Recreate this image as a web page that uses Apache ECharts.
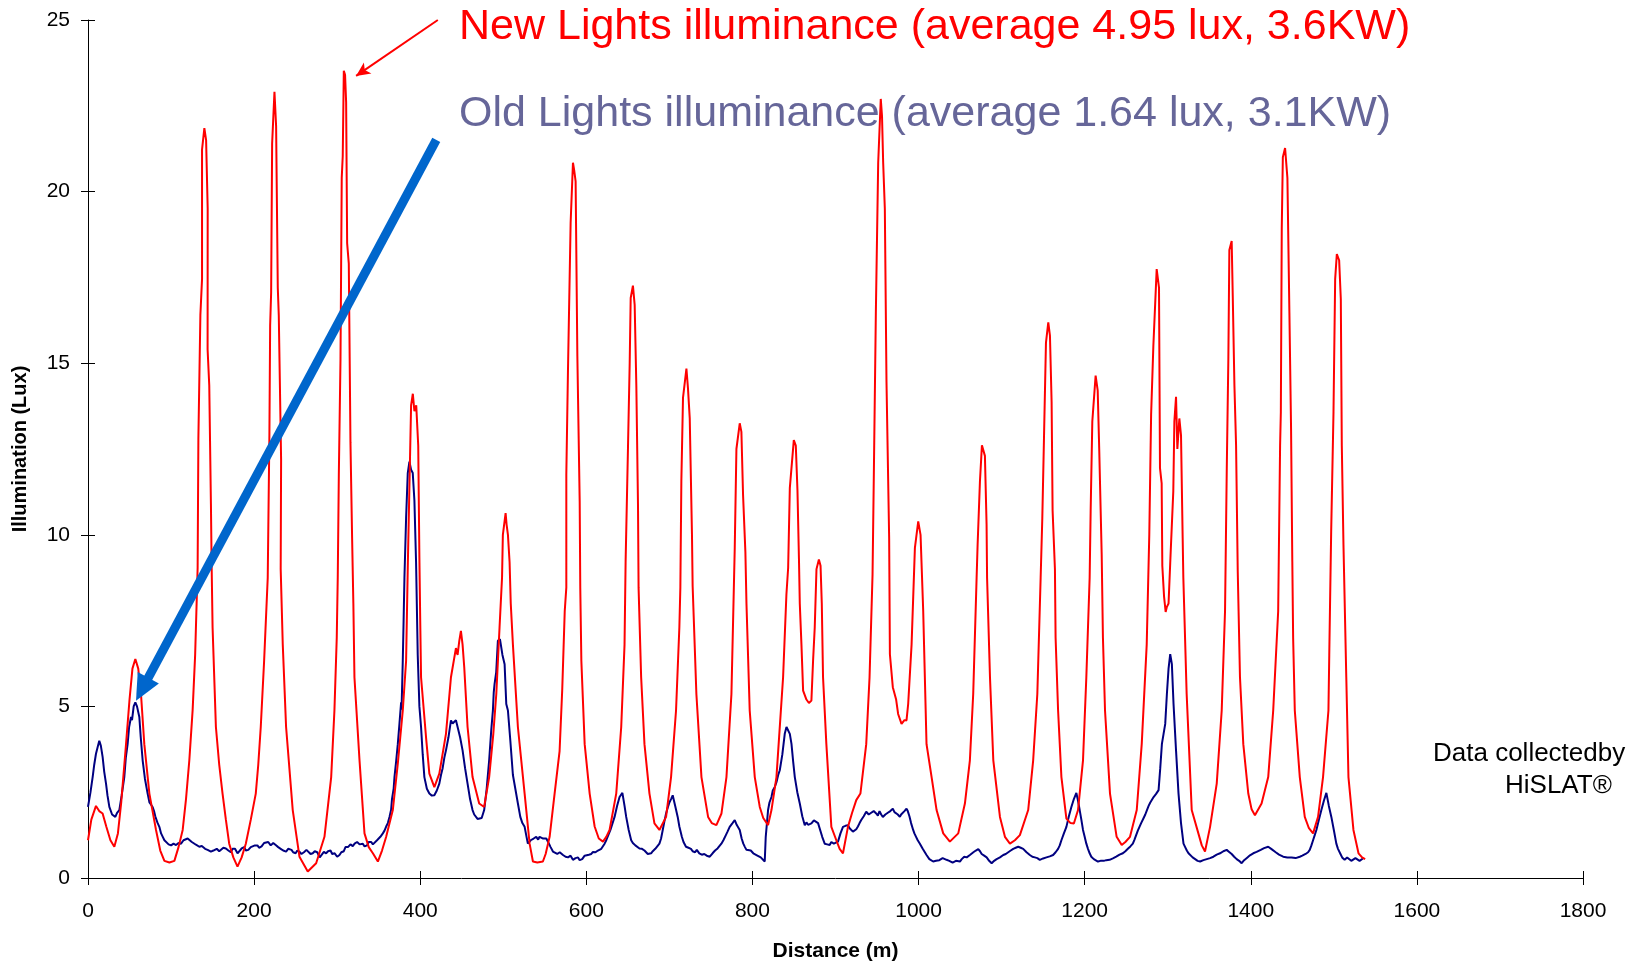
<!DOCTYPE html>
<html>
<head>
<meta charset="utf-8">
<script src="https://cdn.jsdelivr.net/npm/echarts@6/dist/echarts.min.js"></script>
<style>
html,body{margin:0;padding:0;background:#fff;}
#chart{width:1647px;height:967px;}
</style>
</head>
<body>
<div id="chart"></div>
<script>
// ---- Data (distance in m, illuminance in lux) ----
const xTicks = [0, 200, 400, 600, 800, 1000, 1200, 1400, 1600, 1800];
const yTicks = [0, 5, 10, 15, 20, 25];

const newLightsLabel = 'New Lights illuminance (average 4.95 lux, 3.6KW)';
const oldLightsLabel = 'Old Lights illuminance (average 1.64 lux, 3.1KW)';
const creditLines = ['Data collectedby', 'HiSLAT®'];

const newLights = [
[0,1.1],[4,1.7],[9.6,2.1],[13.5,1.95],[17.6,1.88],[22,1.5],[27,1.1],[31.7,0.91],[36,1.3],[40,2.2],[45.8,3.9],[50,5.2],[53.5,6.1],[57,6.38],[60.5,6.1],[63.8,5.36],[67.8,3.9],[73.9,2.46],[81.9,1.4],[87,0.8],[92,0.5],[98,0.45],[104,0.5],[109,0.9],[114,1.4],[118,2.3],[122,3.43],[126,4.9],[129,6.5],[132,9.04],[132.9,12.8],[135.3,16.4],[137.3,17.45],[137.3,21.22],[140.1,21.85],[142.2,21.5],[144.1,19.5],[144,15.4],[146,14.35],[148,10.9],[148.9,9.04],[150,7.3],[154,4.4],[158,3.3],[162,2.46],[166,1.7],[170,1.0],[175,0.6],[180,0.33],[185,0.6],[190,1.0],[196,1.7],[202,2.46],[205,3.3],[208,4.4],[212,6.3],[216.4,8.75],[218.4,12.9],[219.3,16.1],[220.5,17.06],[221.7,21.4],[224.5,22.91],[226.5,21.9],[228.5,17.2],[229.7,16.4],[232.5,12.2],[232,9.0],[234.5,6.8],[238.5,4.4],[246.5,1.98],[254.6,0.62],[264.6,0.19],[274.7,0.43],[284.7,1.2],[292.8,2.94],[296.7,4.88],[299.5,7],[300.7,8.75],[302,11.74],[304,15.1],[305.5,20.4],[306.7,21.03],[308,23.52],[309.5,23.4],[310.8,22.6],[312,18.5],[314,17.9],[316,12.7],[318,9.9],[319.5,8.0],[320.8,5.85],[326.9,3.43],[332.9,1.3],[338,0.9],[343,0.72],[349,0.48],[354,0.8],[359,1.2],[367,1.98],[373,3.33],[379,4.88],[383,6.33],[385,9.04],[389,13.77],[391.1,14.11],[393,13.6],[395.2,13.77],[397.6,12.6],[399,9.33],[400,7.5],[401,5.85],[407,4.1],[411,3.04],[417,2.65],[423,3.04],[431,4.2],[437,5.85],[443,6.7],[445,6.5],[447,6.9],[449,7.2],[451,6.8],[453,6.14],[457,4.4],[463,2.94],[471,2.17],[477,2.07],[483,2.94],[488,4.2],[491.6,5.36],[495.5,7.3],[498.5,8.75],[499.5,10.0],[502.8,10.63],[504,10.3],[505.6,10.0],[507.6,9.2],[509,8.0],[511.6,6.8],[517.6,4.4],[525.7,2.46],[531.7,1.0],[535.7,0.48],[541,0.45],[547.7,0.48],[551,0.7],[555.8,1.2],[561.8,2.46],[567.8,3.7],[571,5.5],[574,7.78],[575.9,8.46],[575.9,11.74],[577.9,14.8],[581.1,19.1],[583.9,20.84],[585.5,20.6],[587.1,20.3],[589.2,15.2],[592,10.97],[592.7,8.46],[594,6.33],[598,3.9],[604,2.46],[610,1.5],[615,1.15],[620,1.06],[624,1.2],[628,1.4],[636,2.46],[642,4.4],[646,6.8],[647.3,9.23],[650.2,12.6],[652.2,15.0],[653.4,16.9],[656.1,17.26],[658.2,16.7],[660.2,14.35],[662.2,10.87],[662.9,8.46],[666,5.85],[670,3.9],[676,2.46],[682,1.59],[688,1.4],[696,1.78],[702,2.94],[708,4.88],[712,7.3],[713.2,8.46],[714.4,11.55],[716.4,14.0],[720.5,14.84],[722.4,14.26],[724.5,13.4],[727.2,10.0],[728,8.5],[732.5,5.36],[738.6,2.94],[746.6,1.78],[751,1.6],[756.6,1.54],[762.7,1.88],[768.7,2.94],[774.7,5.36],[778.7,9.62],[780.7,12.5],[784.7,13.25],[786.7,13.0],[788.7,11.16],[791.5,9.5],[792.8,8.0],[796.7,4.88],[802.8,2.94],[808.8,2.07],[813,1.75],[818.8,1.54],[822.9,1.98],[828.9,2.94],[836.9,5.85],[840.9,8.26],[843,9.04],[845,11.36],[849.8,12.76],[852.2,12.6],[854.2,11.3],[856,9.3],[857,8.0],[859,6.8],[861,5.46],[865,5.2],[868,5.1],[871,5.17],[873,6.33],[875,7.3],[877.1,9.0],[880,9.28],[882,9.1],[883.5,8.0],[885,5.85],[889,3.9],[895,1.49],[901,1.1],[905,0.85],[909,0.72],[915,1.49],[920,1.9],[925,2.27],[930,2.46],[937,3.9],[941,5.85],[944.6,8.84],[946.1,11.65],[948.6,16.5],[951.4,20.84],[954.5,22.7],[956,22.2],[957.4,20.84],[959.4,19.5],[961.4,14.45],[964.6,9.9],[965.5,6.52],[969,5.56],[973,5.2],[975.4,4.78],[979.5,4.49],[983,4.6],[985.5,4.59],[987.5,5.07],[991.6,6.8],[995.6,9.62],[999.6,10.39],[1002.4,10.0],[1005.6,7.78],[1009.6,3.9],[1015.7,2.94],[1021.7,1.98],[1029.7,1.3],[1037.7,1.06],[1047.8,1.3],[1055.8,2.17],[1061.8,3.43],[1065.8,5.36],[1069.9,8.75],[1071.1,9.71],[1073.9,11.55],[1076.3,12.61],[1079.9,12.3],[1081.9,10.3],[1082.5,8.75],[1086,5.85],[1090,3.43],[1098,1.78],[1104,1.2],[1110,1.0],[1116,1.1],[1122,1.25],[1132,1.98],[1138,3.43],[1143,5.36],[1147,8.75],[1149,10.49],[1151,12.8],[1153.4,15.6],[1156.2,16.19],[1158.2,15.8],[1160.2,13.87],[1161.4,10.7],[1164.2,9.0],[1165,7],[1168,4.88],[1172,2.94],[1178,1.73],[1183,1.6],[1187,1.59],[1192,1.98],[1198,3.43],[1202,5.85],[1206,8.75],[1207.2,10.68],[1209.2,13.3],[1213.2,14.64],[1215.7,14.2],[1217.6,12.42],[1220.5,9.42],[1222,7],[1224.5,4.88],[1230.5,2.46],[1238.5,1.2],[1244.6,0.96],[1249,1.05],[1254.6,1.2],[1262.7,1.98],[1268.7,3.9],[1274.7,6.8],[1277.8,10.0],[1280,13.5],[1282.7,15.5],[1286.7,17.74],[1289.5,17.2],[1290.7,11.94],[1292.7,11.5],[1293.5,9.09],[1295.6,8.2],[1297.5,7.75],[1299,7.9],[1301,8.0],[1303.6,9.52],[1306.7,11.26],[1308,13.3],[1310,14.02],[1311.6,12.5],[1314,13.39],[1316,12.9],[1318,9.9],[1318.8,8.75],[1322.8,5.36],[1328.9,1.98],[1336.9,1.3],[1341,0.95],[1344.9,0.77],[1351,1.49],[1359,2.75],[1365,4.88],[1369,7.78],[1371.1,11.94],[1373,15.13],[1374.2,18.3],[1377,18.56],[1378.3,16.96],[1380.3,14.36],[1382.3,12.6],[1384.3,8.94],[1387,5.85],[1391,3.9],[1397,2.46],[1401,2.0],[1405,1.83],[1413,2.17],[1421,2.94],[1427,4.88],[1433,7.78],[1435.3,12.6],[1436.2,13.58],[1437.3,18.9],[1438.6,21.0],[1441.3,21.27],[1444.1,20.4],[1446.5,16.48],[1448.5,13.1],[1450,9.23],[1451,7.0],[1453,4.88],[1459,2.94],[1465,1.78],[1470,1.45],[1475,1.3],[1481,1.78],[1487,2.94],[1493.5,4.88],[1494.5,6.5],[1496.8,10.1],[1499.6,13.58],[1501.6,17.45],[1503.6,18.18],[1506.4,18.0],[1508.4,16.87],[1509.6,12.6],[1511.6,9.71],[1515,5.85],[1517.6,2.94],[1523.6,1.4],[1529.7,0.72],[1534,0.6],[1537.7,0.55]
];

const oldLights = [
[0,2.07],[3,2.5],[5.6,2.94],[7.5,3.3],[9.6,3.62],[11.5,3.8],[13.6,4.0],[15.5,3.85],[17.6,3.53],[19.5,3.1],[21.7,2.75],[23.5,2.4],[25.7,2.07],[29,1.85],[32.9,1.78],[35,1.9],[37.7,1.98],[40.5,2.4],[43.7,2.94],[45.5,3.5],[47.7,3.9],[49.5,4.4],[51.8,4.69],[53,4.6],[55,5.0],[57,5.12],[59,5.0],[61.8,4.69],[63.5,4.1],[65.8,3.43],[68.5,2.9],[71.8,2.46],[74,2.2],[77.8,2.07],[79.5,1.95],[81,1.8],[83.5,1.62],[85.9,1.49],[88,1.3],[90,1.2],[92,1.1],[93.9,1.06],[97,0.98],[100,0.95],[103,1.0],[106,0.96],[109,1.02],[112,1.0],[115,1.1],[117,1.05],[120,1.15],[122,1.1],[125,1.05],[127,1.0],[130,0.97],[134,0.91],[137,0.93],[141,0.85],[144,0.82],[148,0.77],[151,0.8],[155,0.85],[158,0.78],[160,0.8],[163,0.88],[166,0.86],[169,0.8],[172,0.75],[174,0.85],[177,0.85],[180,0.72],[182,0.77],[185,0.86],[188,0.9],[190,0.8],[193,0.82],[196,0.9],[198,0.86],[201,0.95],[204,0.95],[206,0.88],[209,0.92],[212,1.02],[214,1.0],[217,1.05],[220,0.95],[223,1.02],[226,0.96],[229,0.9],[232,0.85],[235,0.8],[238.5,0.77],[241,0.85],[245,0.82],[247,0.75],[250,0.72],[252,0.8],[254.5,0.77],[257,0.7],[260,0.75],[263,0.82],[265,0.8],[268,0.7],[270.6,0.72],[273,0.78],[276,0.75],[279,0.6],[281,0.65],[284,0.76],[286.7,0.72],[289,0.78],[292,0.8],[294,0.7],[297,0.72],[300,0.62],[302.8,0.67],[305,0.75],[308,0.78],[310,0.9],[313,0.9],[316,0.98],[318.8,0.93],[321,1.0],[324,1.05],[327,0.98],[330.9,1.0],[333,0.92],[336,0.95],[338,1.05],[341,1.05],[343,0.98],[345,1.0],[348,1.1],[350,1.15],[352,1.2],[355,1.3],[357,1.38],[359,1.5],[361,1.6],[363,1.78],[365,2.0],[366,2.3],[368,2.6],[369,2.94],[371,3.4],[373,3.9],[375,4.5],[377,5.12],[377.5,4.9],[379,6.33],[380,7.5],[381,8.75],[383,10.49],[385,11.8],[387,12.13],[389,11.9],[391,11.8],[393,11.0],[395,9.2],[397,6.5],[399,5.0],[401,4.4],[403,3.6],[405,2.94],[408,2.6],[411,2.46],[414,2.4],[417,2.41],[420,2.55],[423,2.75],[425,3.0],[427,3.2],[429,3.5],[431,3.72],[434,4.1],[437,4.59],[439,4.5],[441,4.49],[443,4.6],[445,4.4],[448,4.1],[451,3.72],[454,3.2],[457,2.75],[460,2.3],[463,1.98],[465,1.85],[467,1.8],[469,1.72],[471,1.69],[474,1.75],[477,1.98],[480,2.6],[483,3.43],[485.5,4.3],[487.5,4.88],[488.5,5.4],[489.5,5.65],[491.5,6.0],[493.5,6.91],[496,6.96],[499,6.5],[501.6,6.23],[503.6,5.07],[505.6,4.88],[508.5,4.0],[511.6,3.0],[514.5,2.6],[517.6,2.17],[520.5,1.78],[523,1.6],[525.7,1.49],[528,1.2],[529.6,1.0],[531,1.05],[533,1.1],[536.5,1.15],[539.7,1.2],[542,1.12],[543.7,1.2],[546,1.18],[548,1.15],[550,1.2],[551.8,1.15],[555,1.0],[557,0.9],[559.8,0.77],[562,0.74],[565,0.7],[568,0.75],[571.9,0.67],[575,0.62],[578,0.6],[581,0.65],[583.9,0.53],[587,0.58],[590,0.6],[592,0.52],[595,0.55],[598,0.65],[600,0.62],[603,0.68],[606,0.7],[608,0.76],[611,0.75],[614,0.8],[616,0.82],[618,0.85],[620,0.9],[622,1.0],[624,1.1],[629,1.4],[634,1.78],[637,2.1],[640,2.36],[643.4,2.48],[646,2.1],[648,1.78],[651,1.4],[654,1.1],[656,1.02],[659,0.95],[661,0.9],[664,0.86],[667,0.85],[670,0.8],[672,0.76],[674,0.7],[676,0.75],[678,0.72],[680,0.78],[683,0.85],[685,0.9],[688,1.0],[690,1.15],[692,1.4],[694,1.65],[696,1.88],[698,2.05],[700,2.2],[702,2.3],[704,2.41],[707,2.1],[710,1.78],[712,1.5],[715,1.2],[717,1.05],[720,0.91],[723,0.88],[726,0.85],[728,0.78],[731,0.75],[733,0.82],[736,0.72],[739,0.68],[742,0.7],[745,0.65],[748.6,0.62],[752,0.72],[755,0.8],[758,0.86],[762.6,1.0],[765,1.1],[768,1.25],[770,1.35],[772.6,1.49],[776,1.6],[778.7,1.69],[781,1.55],[784.7,1.4],[787,1.15],[789,1.0],[791,0.9],[792.8,0.82],[795,0.86],[798,0.8],[801,0.72],[804.8,0.67],[807,0.7],[810,0.6],[812,0.55],[814.8,0.48],[816,1.2],[818.8,1.98],[820.5,2.2],[822.9,2.36],[824.5,2.55],[826.9,2.65],[829,2.8],[831,3.0],[832.9,3.14],[836,3.6],[838.9,4.2],[841,4.4],[842.9,4.4],[845,4.2],[847,3.91],[849,3.4],[851,2.94],[854,2.5],[857,2.17],[860,1.8],[863,1.54],[865,1.62],[867,1.55],[869,1.6],[871,1.59],[874,1.68],[876,1.65],[879,1.6],[881,1.64],[884,1.2],[887,1.0],[890,0.98],[893,0.96],[895,1.05],[898,1.0],[900,0.98],[903,1.06],[906,1.3],[909,1.49],[912,1.52],[915,1.54],[917,1.45],[919,1.4],[921,1.35],[923,1.3],[925,1.42],[927,1.5],[929,1.6],[931,1.69],[934,1.8],[937,1.93],[940,1.85],[943,1.9],[946,1.95],[949,1.88],[951,1.82],[953,1.95],[955,1.85],[957,1.78],[960,1.85],[963,1.9],[966,1.95],[969,2.02],[971,1.92],[973,1.9],[975,1.85],[977.5,1.78],[979,1.85],[981,1.9],[983,1.95],[985.5,2.02],[987,1.95],[989,1.8],[991,1.6],[993.5,1.4],[995,1.3],[997,1.2],[999,1.1],[1001.6,1.0],[1005,0.85],[1009.6,0.67],[1013,0.55],[1017.6,0.48],[1021,0.5],[1025,0.52],[1029,0.58],[1033.7,0.53],[1037,0.5],[1041,0.45],[1045,0.5],[1049.8,0.48],[1052,0.55],[1055,0.62],[1058,0.6],[1061.8,0.67],[1064,0.72],[1066,0.75],[1069,0.8],[1071.9,0.84],[1074,0.78],[1076,0.7],[1079,0.65],[1082,0.6],[1085,0.5],[1088,0.43],[1091,0.5],[1094,0.55],[1098,0.6],[1102,0.67],[1105,0.7],[1108,0.75],[1111,0.8],[1114,0.85],[1117,0.88],[1120,0.91],[1123,0.88],[1126,0.85],[1130,0.75],[1134,0.67],[1137,0.62],[1140,0.6],[1143,0.58],[1146,0.53],[1150,0.57],[1154,0.6],[1158,0.63],[1162,0.67],[1165,0.75],[1168,0.85],[1170,0.95],[1172,1.1],[1175,1.3],[1178,1.49],[1181,1.8],[1184,2.07],[1187,2.3],[1190,2.48],[1192,2.25],[1194,1.98],[1196,1.7],[1198,1.4],[1200,1.2],[1202,1.0],[1204,0.85],[1206,0.72],[1208,0.62],[1211,0.55],[1213,0.52],[1216,0.48],[1219,0.5],[1223,0.5],[1226,0.52],[1230,0.53],[1234,0.57],[1238,0.62],[1242,0.68],[1246,0.72],[1249,0.78],[1252,0.85],[1255,0.92],[1258,1.0],[1260,1.12],[1262,1.25],[1264,1.38],[1266,1.49],[1268,1.6],[1271,1.75],[1273,1.85],[1275,1.98],[1277,2.1],[1279,2.2],[1281,2.28],[1283,2.36],[1286,2.45],[1289,2.56],[1291,3.2],[1293,3.91],[1295,4.2],[1297,4.49],[1299,5.36],[1301,6.1],[1303,6.52],[1305,6.23],[1307,5.07],[1310,3.72],[1313,2.46],[1316,1.6],[1319,1.0],[1321,0.9],[1323,0.8],[1325,0.72],[1327,0.67],[1330,0.6],[1333,0.55],[1336,0.5],[1339,0.48],[1343,0.52],[1347,0.55],[1351,0.58],[1355,0.62],[1359,0.68],[1363,0.72],[1367,0.78],[1371,0.82],[1374,0.76],[1377,0.7],[1380,0.62],[1383,0.55],[1386,0.5],[1389,0.43],[1392,0.52],[1396,0.6],[1399,0.66],[1403,0.72],[1407,0.76],[1412,0.82],[1416,0.87],[1421,0.91],[1425,0.84],[1430,0.75],[1434,0.68],[1439,0.62],[1444,0.6],[1449,0.6],[1454,0.58],[1459,0.62],[1462,0.65],[1466,0.7],[1469,0.75],[1471,0.82],[1473,0.95],[1475,1.1],[1477,1.25],[1479,1.4],[1482,1.7],[1485,1.98],[1488,2.25],[1491,2.48],[1494,2.1],[1497,1.78],[1500,1.4],[1503,1.0],[1505,0.85],[1508,0.7],[1510,0.6],[1513,0.53],[1516,0.6],[1518,0.55],[1521,0.5],[1523,0.48],[1526,0.58],[1528,0.6],[1531,0.5],[1533,0.55],[1535,0.57]
];

// annotation arrows: [start, arrow-head centre] in data coordinates
const redArrow = [[421.2, 25.0], [322.8, 23.37]];
const blueArrow = [[419.3, 21.51], [65.2, 5.5]];

// ---- Chart ----
const chart = echarts.init(document.getElementById('chart'), null, {renderer: 'canvas'});
const FONT = 'Liberation Sans, Arial, Helvetica, sans-serif';
const xMin = xTicks[0], xMax = xTicks[xTicks.length - 1], xStep = xTicks[1] - xTicks[0];
const yMin = yTicks[0], yMax = yTicks[yTicks.length - 1], yStep = yTicks[1] - yTicks[0];

const baseX = {
  type: 'value', min: xMin, max: xMax, interval: xStep, position: 'bottom',
  splitLine: {show: false}
};
const baseY = {
  type: 'value', min: yMin, max: yMax, interval: yStep, position: 'left',
  splitLine: {show: false}
};

const option = {
  animation: false,
  backgroundColor: '#ffffff',
  grid: {left: 88, right: 64, top: 20, bottom: 86, containLabel: false},
  xAxis: [
    Object.assign({}, baseX, {
      name: 'Distance (m)', nameLocation: 'middle', nameGap: 63,
      nameTextStyle: {fontFamily: FONT, fontWeight: 'bold', fontSize: 21, color: '#000'},
      axisLine: {show: true, lineStyle: {color: '#000', width: 1}},
      axisTick: {show: true, inside: false, length: 7, lineStyle: {color: '#000', width: 1}},
      axisLabel: {show: true, margin: 23, fontFamily: FONT, fontSize: 21, color: '#000',
        formatter: function (v) { return String(v); }}
    }),
    Object.assign({}, baseX, {
      axisLine: {show: false},
      axisTick: {show: true, inside: true, length: 7, lineStyle: {color: '#000', width: 1}},
      axisLabel: {show: false}
    })
  ],
  yAxis: [
    Object.assign({}, baseY, {
      name: 'Illumination (Lux)', nameLocation: 'middle', nameGap: 58, nameRotate: 90,
      nameTextStyle: {fontFamily: FONT, fontWeight: 'bold', fontSize: 20, color: '#000'},
      axisLine: {show: true, lineStyle: {color: '#000', width: 1}},
      axisTick: {show: true, inside: false, length: 7, lineStyle: {color: '#000', width: 1}},
      axisLabel: {show: true, margin: 18, fontFamily: FONT, fontSize: 21, color: '#000'}
    }),
    Object.assign({}, baseY, {
      axisLine: {show: false},
      axisTick: {show: true, inside: true, length: 7, lineStyle: {color: '#000', width: 1}},
      axisLabel: {show: false}
    })
  ],
  series: [
    {
      name: 'Old Lights', type: 'line', data: oldLights, xAxisIndex: 0, yAxisIndex: 0,
      showSymbol: false, symbol: 'none', clip: false, z: 2,
      lineStyle: {color: '#000080', width: 2},
      markLine: {
        silent: true, z: 10, animation: false,
        label: {show: false},
        data: [[
          {coord: blueArrow[0], symbol: 'none', lineStyle: {color: '#0066cc', width: 9, type: 'solid'}},
          {coord: blueArrow[1], symbol: 'triangle', symbolSize: [24, 26]}
        ]]
      }
    },
    {
      name: 'New Lights', type: 'line', data: newLights, xAxisIndex: 0, yAxisIndex: 0,
      showSymbol: false, symbol: 'none', clip: false, z: 3,
      lineStyle: {color: '#ff0000', width: 2},
      markLine: {
        silent: true, z: 10, animation: false,
        label: {show: false},
        data: [[
          {coord: redArrow[0], symbol: 'none', lineStyle: {color: '#ff0000', width: 2, type: 'solid'}},
          {coord: redArrow[1], symbol: 'arrow', symbolSize: [10, 14]}
        ]]
      }
    }
  ],
  graphic: [
    {type: 'text', left: 459, top: 6, style: {text: newLightsLabel, fill: '#ff0000',
      font: '43px ' + FONT}, z: 20},
    {type: 'text', left: 459, top: 93, style: {text: oldLightsLabel, fill: '#666699',
      font: '43px ' + FONT}, z: 20},
    {type: 'text', left: 1433, top: 741, style: {text: creditLines[0], fill: '#000',
      font: '26px ' + FONT}, z: 20},
    {type: 'text', left: 1505, top: 773, style: {text: creditLines[1], fill: '#000',
      font: '26px ' + FONT}, z: 20}
  ]
};
chart.setOption(option);
</script>
</body>
</html>
